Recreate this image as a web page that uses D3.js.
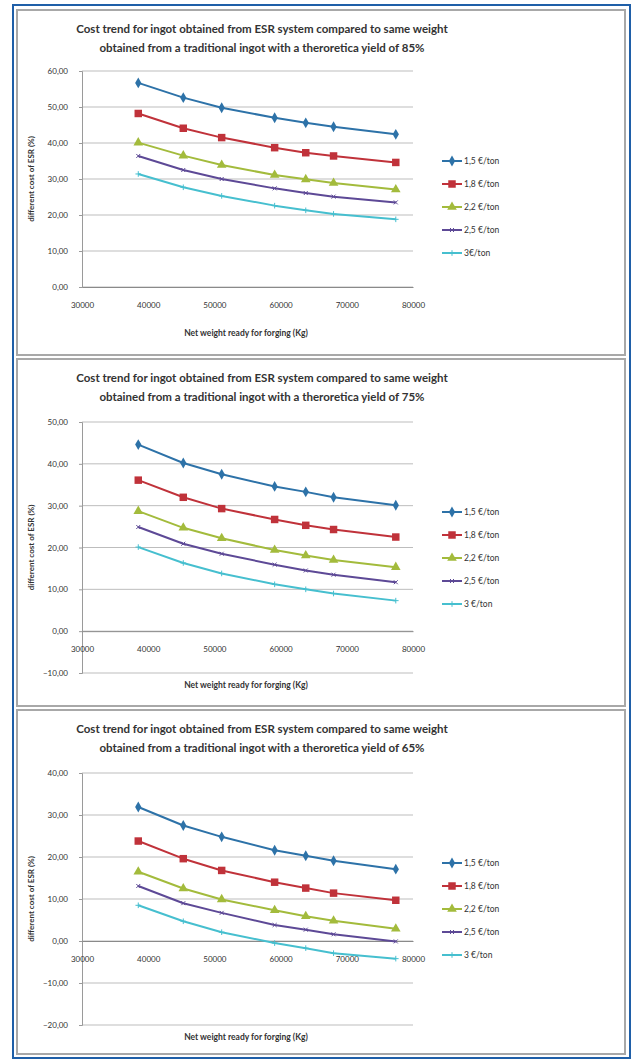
<!DOCTYPE html>
<html>
<head>
<meta charset="utf-8">
<script src="https://cdn.jsdelivr.net/npm/d3@7"></script>
<style>
  body { margin: 0; background: #fff; }
  text { font-family: Lato, "Open Sans", sans-serif; fill: #333; }
</style>
</head>
<body>
<div id="chart"></div>
<script>
// net weight ready for forging (Kg), same for all three charts
const xValues = [38500, 45300, 51100, 59100, 63800, 68000, 77400];
const xTicks = [30000, 40000, 50000, 60000, 70000, 80000];

const seriesNames = ['1,5 €/ton', '1,8 €/ton', '2,2 €/ton', '2,5 €/ton', '3 €/ton'];
const seriesNames85 = ['1,5 €/ton', '1,8 €/ton', '2,2 €/ton', '2,5 €/ton', '3€/ton'];

// yield 85%
const yield85 = [
  [56.7, 52.6, 49.8, 47.0, 45.6, 44.5, 42.4],
  [48.2, 44.1, 41.5, 38.7, 37.3, 36.4, 34.6],
  [40.1, 36.5, 33.9, 31.1, 29.9, 28.9, 27.1],
  [36.4, 32.5, 30.0, 27.4, 26.1, 25.1, 23.5],
  [31.4, 27.7, 25.3, 22.6, 21.3, 20.3, 18.8]
];
// yield 75%
const yield75 = [
  [44.6, 40.2, 37.5, 34.6, 33.3, 32.0, 30.1],
  [36.1, 32.0, 29.3, 26.7, 25.3, 24.3, 22.5],
  [28.7, 24.7, 22.2, 19.4, 18.1, 17.0, 15.3],
  [24.9, 20.9, 18.5, 15.9, 14.5, 13.5, 11.7],
  [20.1, 16.3, 13.8, 11.2, 10.0, 9.0, 7.3]
];
// yield 65%
const yield65 = [
  [31.9, 27.5, 24.8, 21.6, 20.3, 19.1, 17.1],
  [23.8, 19.6, 16.8, 14.0, 12.6, 11.4, 9.7],
  [16.5, 12.5, 9.9, 7.3, 5.9, 4.8, 2.9],
  [13.1, 9.0, 6.7, 3.8, 2.7, 1.6, -0.1],
  [8.5, 4.7, 2.1, -0.5, -1.7, -2.9, -4.2]
];

const yTicks85 = [0, 10, 20, 30, 40, 50, 60];
const yTicks75 = [-10, 0, 10, 20, 30, 40, 50];
const yTicks65 = [-20, -10, 0, 10, 20, 30, 40];

const titleLine1 = 'Cost trend for ingot obtained from ESR system compared to same weight';
const titleLines2 = [
  'obtained from a traditional ingot with a theroretica yield of 85%',
  'obtained from a traditional ingot with a theroretica yield of 75%',
  'obtained from a traditional ingot with a theroretica yield of 65%'
];
const yTitle = 'different cost of ESR (%)';
const xTitle = 'Net weight ready for forging (Kg)';

const colors = ['#2d72a8', '#c0323a', '#a3bb3c', '#5d4996', '#46bfcf'];
const markers = ['diamond', 'square', 'triangle', 'x', 'plus'];

const width = 635, height = 1064;
const svg = d3.select('#chart').append('svg')
  .attr('width', width)
  .attr('height', height);

// panel layout
const panels = [
  { top: 10, bottom: 355, plotTop: 71, plotBottom: 287, data: yield85, ticks: yTicks85, names: seriesNames85, title: titleLines2[0], legendTop: 161 },
  { top: 359, bottom: 706, plotTop: 422, plotBottom: 673, data: yield75, ticks: yTicks75, names: seriesNames, title: titleLines2[1], legendTop: 512 },
  { top: 710, bottom: 1054, plotTop: 773, plotBottom: 1025, data: yield65, ticks: yTicks65, names: seriesNames, title: titleLines2[2], legendTop: 863 }
];
const plotLeft = 82, plotRight = 413;
const fmt = v => d3.format('.2f')(v).replace('.', ',');

function drawMarker(g, type, x, y, color) {
  const t = `translate(${x},${y})`;
  if (type === 'diamond') {
    g.append('path').attr('d', d3.symbol(d3.symbolDiamond, 34)()).attr('transform', t).attr('fill', color);
  } else if (type === 'square') {
    g.append('path').attr('d', d3.symbol(d3.symbolSquare, 56)()).attr('transform', t).attr('fill', color);
  } else if (type === 'triangle') {
    g.append('path').attr('d', d3.symbol(d3.symbolTriangle, 40)()).attr('transform', t).attr('fill', color);
  } else if (type === 'x') {
    g.append('path').attr('d', d3.symbol(d3.symbolX, 12)()).attr('transform', t).attr('fill', 'none').attr('stroke', color).attr('stroke-width', 1);
  } else {
    g.append('path').attr('d', d3.symbol(d3.symbolPlus, 12)()).attr('transform', t).attr('fill', 'none').attr('stroke', color).attr('stroke-width', 1);
  }
}

panels.forEach((p, k) => {
  const g = svg.append('g');

  // panel frame
  g.append('rect')
    .attr('x', 17).attr('y', p.top)
    .attr('width', 608).attr('height', p.bottom - p.top)
    .attr('fill', '#fff')
    .attr('stroke', '#a8a8a8')
    .attr('stroke-width', 2);

  const x = d3.scaleLinear().domain([30000, 80000]).range([plotLeft, plotRight]);
  const y = d3.scaleLinear().domain(d3.extent(p.ticks)).range([p.plotBottom, p.plotTop]);

  // gridlines
  g.append('g')
    .selectAll('line')
    .data(p.ticks)
    .join('line')
    .attr('x1', plotLeft).attr('x2', plotRight)
    .attr('y1', d => y(d)).attr('y2', d => y(d))
    .attr('stroke', '#bdbdbd')
    .attr('stroke-width', 1);

  // y axis
  const yAxis = g.append('g')
    .attr('transform', `translate(${plotLeft},0)`)
    .call(d3.axisLeft(y).tickValues(p.ticks).tickSize(3).tickFormat(fmt));
  yAxis.select('.domain').attr('stroke', '#9a9a9a');
  yAxis.selectAll('.tick line').attr('stroke', '#9a9a9a');
  yAxis.selectAll('text').attr('font-size', 8).attr('fill', '#444').attr('dx', -8)
    .style('font-family', 'Lato, sans-serif');

  // x axis crossing at 0
  const xAxis = g.append('g')
    .attr('transform', `translate(0,${y(0)})`)
    .call(d3.axisBottom(x).tickValues(xTicks).tickSize(0).tickFormat(d3.format('d')));
  xAxis.select('.domain').attr('stroke', '#8a8a8a');
  xAxis.selectAll('text').attr('font-size', 8).attr('fill', '#444').attr('dy', 18)
    .style('font-family', 'Lato, sans-serif');

  // series
  const line = d3.line().x((d, i) => x(xValues[i])).y(d => y(d));
  p.data.forEach((vals, s) => {
    g.append('path')
      .datum(vals)
      .attr('d', line)
      .attr('fill', 'none')
      .attr('stroke', colors[s])
      .attr('stroke-width', 2)
      .attr('stroke-linejoin', 'round');
    vals.forEach((v, i) => drawMarker(g, markers[s], x(xValues[i]), y(v), colors[s]));
  });

  // titles
  const cx = 262;
  g.append('text').attr('x', cx).attr('y', p.top + 23)
    .attr('text-anchor', 'middle').attr('font-size', 11.5).attr('font-weight', 'bold')
    .text(titleLine1);
  g.append('text').attr('x', cx).attr('y', p.top + 42)
    .attr('text-anchor', 'middle').attr('font-size', 11.5).attr('font-weight', 'bold')
    .text(p.title);

  g.append('text')
    .attr('transform', `translate(34,${(p.plotTop + p.plotBottom) / 2}) rotate(-90)`)
    .attr('text-anchor', 'middle').attr('font-size', 8).attr('font-weight', 'bold')
    .text(yTitle);

  const xTitleY = k === 0 ? 336 : p.plotBottom + 15;
  g.append('text').attr('x', 246).attr('y', xTitleY)
    .attr('text-anchor', 'middle').attr('font-size', 8.5).attr('font-weight', 'bold')
    .text(xTitle);

  // legend
  p.names.forEach((name, s) => {
    const ly = p.legendTop + s * 23;
    g.append('line').attr('x1', 442).attr('x2', 462).attr('y1', ly).attr('y2', ly)
      .attr('stroke', colors[s]).attr('stroke-width', 2);
    drawMarker(g, markers[s], 452, ly, colors[s]);
    g.append('text').attr('x', 464).attr('y', ly + 3)
      .attr('font-size', 8.5).attr('fill', '#444')
      .text(name);
  });
});

// outer blue frame
svg.append('rect')
  .attr('x', 13).attr('y', 5)
  .attr('width', 617).attr('height', 1053)
  .attr('fill', 'none')
  .attr('stroke', '#1f5fa8')
  .attr('stroke-width', 2);
</script>
</body>
</html>
